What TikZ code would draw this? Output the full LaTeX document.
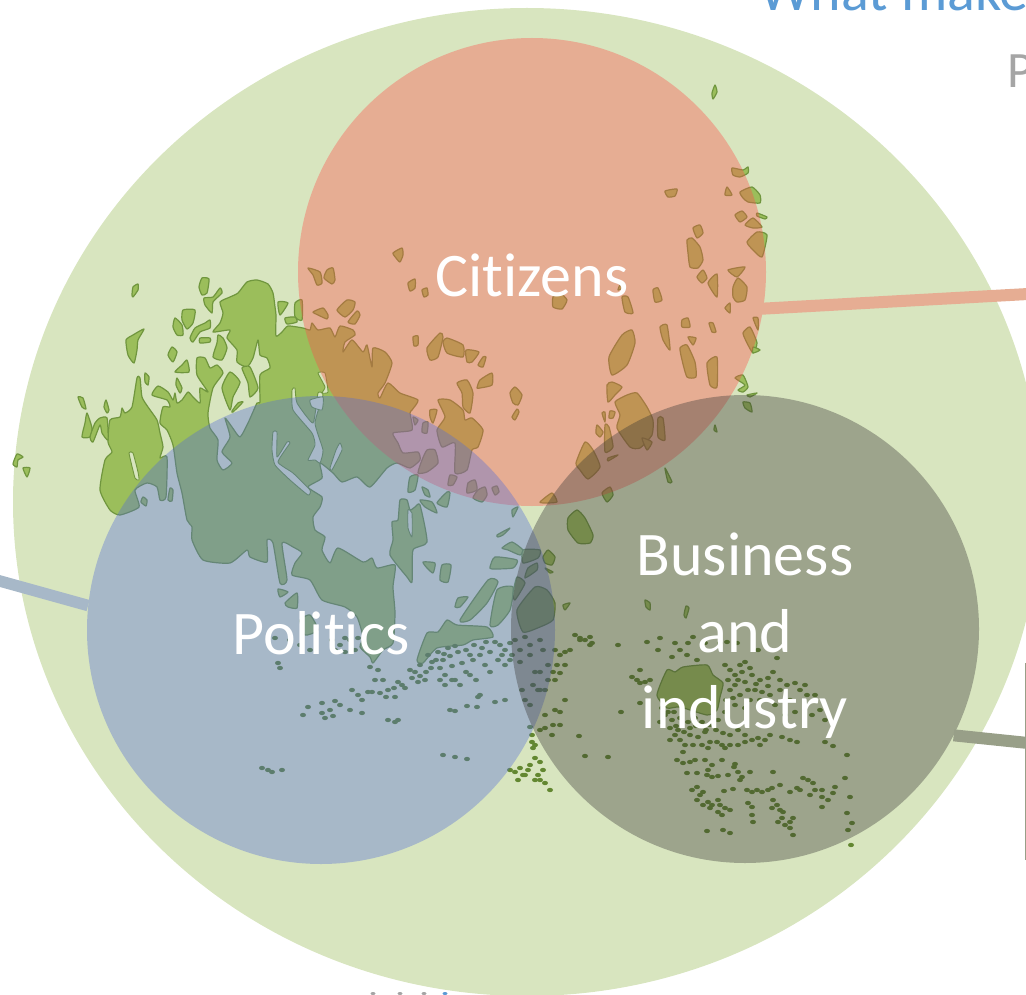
\documentclass[tikz,border=0pt]{standalone}
\usepackage{fontspec}
\setmainfont[Ligatures=CommonOff]{Carlito}
\usetikzlibrary{shapes.geometric}
\definecolor{fieldGreen}{RGB}{216,229,191}
\definecolor{landFill}{RGB}{155,190,91}
\definecolor{landEdge}{RGB}{112,150,62}
\definecolor{dotDark}{RGB}{98,135,48}
\definecolor{citizenFill}{RGB}{254,78,73}
\definecolor{politicsFill}{RGB}{84,108,216}
\definecolor{businessFill}{RGB}{56,54,53}
\definecolor{citizenLine}{RGB}{230,173,147}
\definecolor{politicsLine}{RGB}{167,184,200}
\definecolor{businessLine}{RGB}{152,159,136}
\definecolor{titleBlue}{RGB}{91,155,213}
\definecolor{subGrey}{RGB}{165,165,165}
\newcommand\isl[1]{\draw[landshape] plot [smooth cycle,tension=0.35] coordinates {#1};}
\newcommand\sea[1]{\draw[seashape] plot [smooth cycle,tension=0.3] coordinates {#1};}
\newcommand\islets[1]{\foreach \px/\py in {#1}{\fill[isletshape] (\px,\py) ellipse [x radius=3pt,y radius=2.2pt];}}
\tikzset{
 landshape/.style={fill=landFill,draw=landEdge,line width=1.2pt,line join=round},
 seashape/.style={fill=fieldGreen,draw=landEdge,line width=0.9pt,line join=round},
 isletshape/.style={fill=dotDark},
 venn/.style={circle,minimum size=468pt,inner sep=0pt,fill opacity=0.37,text opacity=1,text=white,align=center,font=\fontsize{62}{76.5}\selectfont},
 linkline/.style={line width=12pt,line cap=butt}
}
\begin{document}
\begin{tikzpicture}[x=1pt,y=-1pt]
\useasboundingbox (0,0) rectangle (1026,995);
\clip (0,0) rectangle (1026,995);
\node[ellipse,fill=fieldGreen,minimum width=1028pt,minimum height=988pt,inner sep=0pt] (field) at (527,502) {};
% main land mass
\isl{(220,302)(230,297)(238,293)(247,282)(257,280)(268,284)(273,293)(275,307)(276,315)(276,336)(282,332)(288,326)(303,328)(310,330)(312,323)(318,330)(330,328)(335,337)(340,326)(353,330)(355,335)(345,342)(343,352)(352,340)(363,352)(367,345)(372,367)(373,348)(385,352)(392,363)(385,383)(378,393)(380,398)(388,383)(400,393)(418,400)(412,410)(410,413)(412,430)(393,433)(398,443)(403,453)(418,452)(420,460)(410,468)(397,463)(387,468)(370,487)(357,477)(342,482)(333,473)(320,463)(322,478)(308,487)(322,497)(320,507)(313,517)(315,530)(325,537)(322,550)(330,563)(338,548)(363,562)(372,558)(377,568)(395,565)(393,587)(395,613)(393,643)(383,650)(373,663)(370,657)(360,647)(363,637)(357,617)(345,607)(322,600)(310,580)(292,575)(295,563)(302,553)(293,547)(282,543)(287,580)(280,583)(273,543)(267,540)(267,562)(250,557)(247,550)(230,563)(203,560)(192,540)(192,527)(187,520)(182,493)(177,473)(173,445)(167,430)(160,423)(163,407)(170,407)(167,400)(152,395)(158,386)(168,392)(173,400)(175,393)(177,403)(182,400)(188,392)(193,397)(200,403)(200,388)(208,392)(197,375)(197,358)(205,358)(210,368)(217,365)(223,373)(213,388)(208,413)(210,428)(218,440)(217,460)(223,470)(232,463)(222,452)(230,437)(225,418)(232,427)(240,437)(248,423)(257,403)(260,402)(260,375)(270,368)(267,358)(260,355)(258,340)(253,358)(247,367)(237,362)(237,350)(227,338)(230,330)(213,332)(220,323)(223,313)}
% channels in the main mass
\sea{(292,390)(295,388)(297,403)(313,423)(318,393)(323,395)(315,423)(323,450)(320,463)(315,460)(308,460)(315,445)(312,433)(293,410)}
\sea{(273,432)(277,432)(277,457)(287,442)(290,443)(278,462)(293,473)(310,490)(308,495)(290,480)(275,465)(272,450)}
\sea{(310,400)(323,397)(322,410)(312,407)}
\sea{(340,443)(342,450)(332,470)(330,468)(336,450)}
\sea{(318,373)(325,373)(328,392)(322,393)(325,387)}
% west island
\isl{(110,420)(120,417)(122,408)(125,413)(132,407)(137,378)(140,378)(142,397)(148,407)(157,420)(160,433)(163,447)(160,458)(167,457)(166,497)(160,500)(157,487)(147,483)(135,490)(139,507)(120,515)(110,510)(100,490)(105,460)(112,452)(108,442)}
\sea{(129,453)(133,453)(138,472)(139,480)(135,478)}
% north-west islands
\isl{(133,287)(138,284)(138,290)(133,297)(132,295)}
\isl{(144,329)(138,340)(137,350)(134,363)(128,355)(126,340)(133,335)}
\isl{(202,278)(209,279)(207,293)(202,295)(199,287)}
\isl{(220,288)(222,293)(213,302)(212,313)(205,305)(204,298)(213,297)}
\isl{(183,310)(195,310)(193,323)(187,329)(182,320)}
\isl{(175,318)(182,325)(183,335)(177,335)(173,327)}
\isl{(210,320)(210,328)(200,332)(193,342)(190,338)(195,328)(205,323)}
\isl{(200,338)(210,338)(210,342)(200,343)}
\isl{(218,335)(223,338)(227,348)(222,360)(213,357)(217,343)}
\isl{(172,347)(177,352)(173,362)(168,355)}
\isl{(187,360)(189,372)(175,372)(182,365)}
\isl{(145,373)(149,377)(148,385)(145,382)}
\isl{(177,378)(182,388)(180,393)(176,385)}
\isl{(230,372)(240,382)(233,397)(230,410)(222,388)}
\isl{(242,368)(250,367)(258,388)(250,397)(248,383)}
\isl{(243,402)(233,412)(232,411)(238,403)}
\isl{(78,397)(83,398)(86,409)(82,407)}
\isl{(106,400)(109,410)(107,413)(104,407)}
\isl{(87,413)(92,428)(90,437)(82,437)(85,423)}
\isl{(100,418)(107,418)(108,440)(102,433)(100,425)(93,442)(90,437)(95,423)}
\isl{(17,454)(23,457)(18,460)(17,467)(13,464)}
\isl{(23,468)(30,468)(27,477)}
\isl{(278,302)(288,303)(280,315)}
\isl{(295,303)(302,300)(302,320)(295,317)}
\isl{(285,318)(295,317)(297,322)(287,324)}
\isl{(143,497)(147,500)(146,506)(141,502)}
\isl{(170,488)(173,490)(172,501)(168,500)}
% islands under Citizens
\isl{(393,253)(402,248)(403,255)(400,262)(396,258)}
\isl{(308,268)(320,272)(322,283)(317,285)(313,275)}
\isl{(327,270)(333,268)(335,280)(332,284)(324,278)}
\isl{(408,283)(415,279)(415,288)(410,291)}
\isl{(422,290)(427,288)(428,295)(424,297)}
\isl{(313,312)(323,308)(328,315)(327,319)(318,315)}
\isl{(337,310)(347,300)(355,302)(353,310)(345,317)}
\isl{(348,322)(357,311)(360,315)(355,324)}
\isl{(413,337)(418,336)(418,345)(414,346)}
\isl{(427,348)(440,333)(443,337)(438,357)(430,360)}
\isl{(443,342)(447,338)(463,345)(463,357)(447,353)}
\isl{(466,350)(479,352)(472,362)(467,362)}
\isl{(483,357)(486,357)(483,367)(478,365)}
\isl{(477,388)(480,380)(492,373)(492,385)(480,388)}
\isl{(510,393)(515,387)(522,395)(518,405)(513,403)}
\isl{(512,417)(517,409)(519,412)(515,420)}
\isl{(457,383)(467,380)(473,393)(470,413)(463,407)(462,393)}
\isl{(430,410)(437,410)(433,423)(430,417)}
\isl{(438,400)(450,400)(463,410)(465,420)(472,418)(483,430)(478,447)(472,450)(467,470)(455,473)(455,443)(442,447)(437,430)(445,417)}
\isl{(413,417)(418,420)(415,425)}
\isl{(423,423)(428,422)(427,433)(422,432)}
\isl{(450,475)(457,477)(453,485)(448,485)}
\isl{(468,483)(475,480)(477,490)(467,493)}
\isl{(478,490)(485,487)(487,495)(482,502)(473,498)}
\isl{(492,488)(497,486)(499,492)(495,495)}
\isl{(427,450)(435,450)(438,463)(427,472)(418,473)(422,460)}
\isl{(410,477)(418,475)(415,490)(408,492)}
\isl{(422,487)(428,490)(430,497)(425,495)}
\isl{(447,492)(450,493)(447,507)(437,503)}
% east part, under Politics
\isl{(400,500)(407,500)(410,510)(415,507)(420,505)(427,542)(413,550)(412,582)(407,577)(390,555)(393,540)(392,522)(398,520)}
\sea{(408,510)(412,513)(412,537)(408,528)}
\isl{(420,500)(432,502)(437,513)(425,507)}
\isl{(423,562)(435,563)(433,573)(427,568)}
\isl{(442,565)(451,565)(448,582)(440,580)}
\isl{(497,535)(510,528)(503,535)(498,537)}
\isl{(502,548)(512,542)(523,550)(520,555)(508,550)}
\isl{(490,567)(495,557)(517,560)(513,568)(492,569)}
\isl{(460,620)(488,580)(498,582)(487,603)(470,620)}
\isl{(490,625)(497,590)(513,587)(510,610)(498,625)}
\isl{(455,607)(458,598)(468,597)(460,607)}
\isl{(517,610)(535,587)(547,590)(555,603)(553,620)(540,627)(523,632)}
\isl{(523,550)(540,550)(538,558)(523,563)}
\isl{(528,568)(537,563)(537,570)(525,578)}
\isl{(517,577)(525,583)(515,600)(513,593)}
\isl{(543,557)(548,550)(555,557)(552,565)(545,563)}
\isl{(545,568)(553,572)(550,573)}
\isl{(417,660)(427,633)(438,632)(447,620)(457,625)(487,627)(493,637)(473,640)(463,645)(437,648)(423,663)}
\isl{(512,510)(518,507)(513,517)}
\isl{(278,589)(288,592)(280,597)}
\isl{(285,603)(297,593)(297,608)(288,607)}
\isl{(300,620)(310,615)(318,630)(305,635)}
% islands under Citizens, east
\isl{(715,85)(717,92)(713,99)(712,93)}
\isl{(732,168)(743,170)(748,167)(748,173)(740,177)(733,175)}
\isl{(727,187)(732,195)(725,195)}
\isl{(740,192)(752,187)(760,195)(760,203)(748,202)(743,198)}
\isl{(665,191)(677,189)(675,196)(668,197)}
\isl{(757,213)(767,217)(765,219)(757,216)}
\isl{(735,215)(742,211)(747,217)(740,222)}
\isl{(745,225)(753,218)(762,227)(753,228)}
\isl{(747,242)(757,232)(767,235)(762,257)(753,250)}
\isl{(693,228)(700,225)(703,233)(697,238)}
\isl{(687,240)(692,238)(700,247)(703,260)(698,268)(690,267)(688,253)}
\isl{(697,277)(703,270)(707,278)(702,283)}
\isl{(708,283)(717,274)(717,297)}
\isl{(728,270)(745,267)(737,277)}
\isl{(733,287)(738,278)(747,287)(745,300)(737,302)(733,297)}
\isl{(653,290)(658,288)(662,300)(655,302)}
\isl{(622,297)(628,297)(633,313)(625,312)}
\isl{(620,285)(623,288)(618,290)}
\isl{(553,297)(560,293)(567,300)(562,309)(553,307)}
\isl{(622,335)(632,330)(635,343)(627,365)(612,375)(609,357)}
\isl{(660,327)(667,325)(670,350)(663,340)}
\isl{(682,320)(688,318)(690,327)(682,327)}
\isl{(709,323)(713,323)(716,332)(712,332)}
\isl{(688,337)(696,338)(693,345)}
\isl{(680,348)(687,345)(695,362)(696,377)(687,377)(682,360)}
\isl{(707,363)(717,357)(717,387)(710,385)}
\isl{(743,333)(750,327)(757,343)(753,353)(747,343)}
\isl{(753,318)(758,318)(758,330)}
\isl{(725,308)(730,303)(730,313)}
\isl{(753,347)(760,350)(753,353)}
\isl{(735,378)(743,375)(748,387)(743,392)(738,390)(745,385)}
\isl{(747,395)(757,393)(750,397)}
\isl{(743,402)(750,403)(752,412)(745,408)}
\isl{(715,425)(717,432)(714,430)}
\isl{(607,385)(612,382)(622,387)(615,395)(608,402)}
\isl{(627,395)(637,393)(647,407)(653,420)(652,435)(640,448)(630,447)(617,428)(620,415)(615,402)}
\isl{(658,418)(663,418)(665,440)(658,437)}
\isl{(602,413)(605,412)(605,422)}
\isl{(610,411)(615,412)(613,418)(609,418)}
\isl{(597,425)(603,432)(600,437)(596,433)}
\isl{(605,425)(609,427)(613,447)(605,452)}
\isl{(608,458)(618,455)(608,461)}
\isl{(642,438)(652,442)(647,450)}
\isl{(585,442)(593,450)(600,467)(588,479)(580,470)(576,463)}
\isl{(540,502)(552,493)(557,502)(545,503)}
\isl{(665,468)(672,482)(668,482)}
\isl{(602,493)(610,487)(613,495)(607,502)}
\isl{(568,518)(577,510)(585,518)(593,535)(590,543)(578,543)(568,530)}
\isl{(563,605)(570,603)(565,610)}
\isl{(645,600)(650,603)(650,610)(646,607)}
\isl{(686,606)(689,608)(686,618)(684,615)}
% large island in the south-east
\isl{(657,695)(667,670)(675,672)(683,667)(707,665)(713,675)(723,683)(720,697)(717,710)(707,715)(680,707)(667,708)}
% skerries
\islets{412/678,420/676,426/672,410/670,420/665,431/668,436/660,443/660,450/656,428/655,438/652,448/648,458/652,466/650,474/645,482/648,440/668,452/666,462/663,473/660,480/655,490/652,500/645,510/643,495/642,505/650,440/680,470/675,476/680,466/672,445/675,455/680,490/672,510/660,445/685,498/660,505/665,485/665,415/672,425/680,418/682,432/662,444/654,455/646,470/655,486/642,502/655}
\islets{368/692,375/680,383/680,372/692,380/693,388/690,395/697,386/697,394/688,398/682,405/688,362/700,358/695,352/690,402/685}
\islets{308/707,322/703,335/701,340/705,330/710,322/713,333/716,303/715,325/718,350/710,362/713,388/720,395/722,398/720,443/755,455/757,467/759,450/710,455/711,467/706,477/707,495/702,505/700,478/697,480/695,460/685,452/680,262/768,268/770,272/772,282/770}
\islets{275/638,290/640,300/645,310/650,278/663,280/668,370/667,378/670,332/640,340/645,350/640,358/638,345/652,335/650,355/650,345/638}
\islets{515/640,525/637,530/645,540/640,520/650,530/655,512/655,520/662,543/650,535/672,540/672,533/685,540/690,525/700,530/705,538/690,545/690,522/690,548/680,555/650,560/655,565/652,557/665,553/672,560/673,555/680,565/665,570/650,548/665,545/715,555/710,560/712,553/725,545/728,560/725,540/730,552/735,565/700,575/635,580/640,585/640,590/645}
\islets{510/770,515/772,520/768,525/775,530/765,540/762,543/770,538/775,535/780,523/775,528/770,518/780,540/780,545/783,550/790,535/758,532/742,533/748,532/735,530/727,535/745}
\islets{660/638,647/642,658/650,675/643,680/650,672/657,693/637,688/643,697/660,687/655,720/643,727/642,737/643,705/643,758/650,777/658,580/638,590/637,592/643,618/645}
\islets{725/665,730/670,735/675,740/665,745/662,750/668,738/680,745/682,752/675,760/680,768/678,755/690,730/690,740/695,750/700,745/708,735/705,725/712,760/700,770/695,775/705,780/690,790/700,795/712,785/715,800/690,805/685,815/695,820/710,825/720,812/715,773/672,780/680,787/685,795/683,807/695,632/677,640/670,637/680,645/682,650/680,640/683,621/712,640/703}
\islets{665/715,672/720,680/718,688/722,695/718,702/722,710/725,670/728,678/730,690/728,662/708,668/712,676/726,684/732,696/726,706/730,718/720,726/700,733/698,728/680,735/685,742/672,756/684,748/690,762/692,768/686,674/712,660/722}
\islets{675/735,680/740,685/745,690/735,693/745,670/740,683/752,702/745,710/742,708/748,717/742,722/745,725/748,730/745,738/745,745/735,745/742,752/740,760/745,758/738,765/740,770/735,716/730,723/733,730/735,738/730,705/732,698/737,782/737,790/740,797/742,825/742,833/746}
\islets{677/760,683/763,690/762,695/760,705/760,712/765,708/770,722/760,734/767,735/764,687/773,697/773,707/775,712/777,718/776,728/775,738/772,742/777,740/780,750/772,773/772}
\islets{692/790,697/787,703/792,700/795,697/800,703/805,708/802,712/805,718/800,710/808,720/805,725/808,730/810,722/815,718/812,747/790,752/792,757/790,762/792,768/790,772/788,780/785,724/791,733/789,773/800,777/805,772/808,780/810,783/812,748/803,752/807,752/815,753/822,778/822,782/818,785/825,790/822,790/828,793/818,793/835,707/831,723/830,730/833,790/792,797/788,800/790,803/778,808/780,813/783,810/795,815/790,822/790,822/797,835/787,833/793,845/778,850/797,847/813,852/823,848/830,822/807,828/800,847/755,851/845,585/756,608/757,579/736}
% the three circles
\node[venn,fill=citizenFill] (citizens) at (532,272) {\rule{0pt}{49pt}Citizens};
\node[venn,fill=politicsFill] (politics) at (321,630) {\rule{0pt}{49pt}Politics};
\node[venn,fill=businessFill] (business) at (745,629) {\rule{0pt}{56pt}Business\\and\\industry};
% connectors
\coordinate (citizensEnd) at (1028,294);
\coordinate (politicsEnd) at (-2,580.5);
\coordinate (businessEnd) at (1028,743);
\draw[linkline,citizenLine,shorten <=-30pt] (citizens.-9) -- (citizensEnd);
\draw[linkline,politicsLine,line width=11.5pt] (politics.174) -- (politicsEnd);
\draw[linkline,businessLine] (business.-27) -- (businessEnd);
% panel rule, title fragments
\coordinate (ruleTop) at (1025.5,663);
\coordinate (ruleBottom) at (1025.5,860);
\draw[businessLine,line width=1.6pt] (ruleTop) -- (ruleBottom);
\node[anchor=base west,inner sep=0pt,text=titleBlue,font=\fontsize{58}{60}\selectfont] (titleText) at (759,11) {What make};
\node[anchor=base west,inner sep=0pt,text=subGrey,font=\fontsize{51}{55}\selectfont] (subText) at (1007,88) {P};
\foreach \bx/\bc in {373/subGrey,400/subGrey,424/subGrey,445/titleBlue}{\fill[\bc] (\bx,993.5) ellipse [x radius=2.5pt,y radius=1.5pt];}
\end{tikzpicture}
\end{document}
